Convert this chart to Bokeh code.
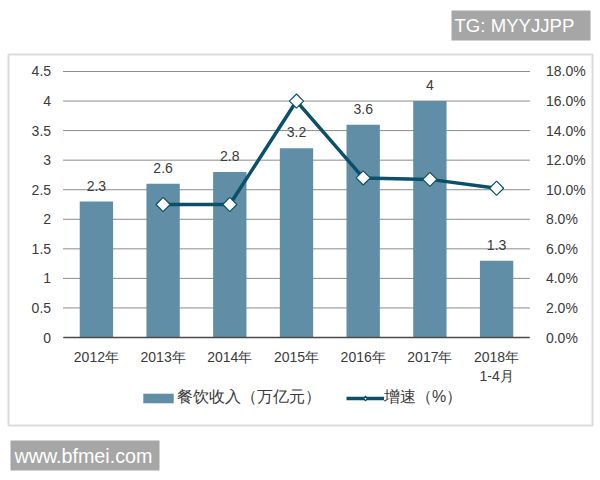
import math
from bokeh.core.properties import value
from bokeh.plotting import figure
from bokeh.embed import file_html
from bokeh.resources import INLINE
from bokeh.models import (ColumnDataSource, LinearAxis, Range1d, LabelSet, Label,
                          Legend, LegendItem, NumeralTickFormatter, BoxAnnotation, FixedTicker)

categories = ["2012年", "2013年", "2014年", "2015年", "2016年", "2017年", "2018年\n1-4月"]
revenue = [2.3, 2.6, 2.8, 3.2, 3.6, 4, 1.3]
revenue_labels = ["2.3", "2.6", "2.8", "3.2", "3.6", "4", "1.3"]
growth = [float("nan"), 0.09, 0.09, 0.16, 0.108, 0.107, 0.101]
left_ticks = [0, 0.5, 1, 1.5, 2, 2.5, 3, 3.5, 4, 4.5]
right_ticks = [0, 0.02, 0.04, 0.06, 0.08, 0.10, 0.12, 0.14, 0.16, 0.18]
positions = list(range(len(categories)))

FONT = "Liberation Sans"
TEXT = "#3a3a3a"
W, H = 600, 480
# The frame covers the whole canvas, so the legend, the outer box and the badges are not cut off.
X0, X1 = -1.438, 7.558
Y0, Y1 = -2.419, 5.701
SCALE = 0.04

p = figure(width=W, height=H, output_backend="svg", toolbar_location=None,
           x_range=Range1d(X0, X1), y_range=Range1d(Y0, Y1),
           x_axis_type=None, y_axis_type=None,
           min_border=0, min_border_left=0, min_border_right=0, min_border_top=0, min_border_bottom=0,
           outline_line_color=None, background_fill_color="white", border_fill_color="white")
p.extra_y_ranges = {"g": Range1d(Y0 * SCALE, Y1 * SCALE)}
p.xgrid.visible = False
p.ygrid.visible = False

src = ColumnDataSource(dict(x=positions, rev=revenue, lab=revenue_labels, g=growth))
grid_src = ColumnDataSource(dict(y=left_ticks, a=[-0.5] * len(left_ticks), b=[6.5] * len(left_ticks)))

p.segment(x0="a", x1="b", y0="y", y1="y", source=grid_src, line_color="#8c8c8c", line_width=1)
bars = p.vbar(x="x", top="rev", width=0.5, source=src, fill_color="#5f8ea6", line_color=None)
line = p.line(x="x", y="g", y_range_name="g", source=src, line_color="#0b5068", line_width=3.5)
pts = p.scatter(x="x", y="g", y_range_name="g", source=src, marker="square", size=10, angle=math.pi / 4,
                fill_color="white", line_color="#0b5068", line_width=1.2)
# legend-only key: the legend ignores the rotation of the square above
key = p.scatter(x=[float("nan")], y=[float("nan")], y_range_name="g", marker="diamond", size=10,
                fill_color="white", line_color="#0b5068", line_width=1.2)

p.add_layout(LabelSet(x="x", y="rev", text="lab", source=src, y_offset=11, text_align="center",
                      text_baseline="alphabetic", text_font=value(FONT), text_font_size="14px", text_color=TEXT))

xa = LinearAxis(ticker=FixedTicker(ticks=positions), fixed_location=0, bounds=(-0.5, 6.5),
                major_label_overrides={i: c for i, c in zip(positions, categories)})
la = LinearAxis(ticker=FixedTicker(ticks=left_ticks), fixed_location=-0.5, bounds=(0, 4.5),
                major_label_overrides={0: "0", 1: "1", 2: "2", 3: "3", 4: "4"})
ra = LinearAxis(y_range_name="g", ticker=FixedTicker(ticks=right_ticks), fixed_location=6.5,
                bounds=(0, 0.18), formatter=NumeralTickFormatter(format="0.0%"))
for ax in (xa, la, ra):
    ax.major_tick_line_color = None
    ax.minor_tick_line_color = None
    ax.major_label_text_font = FONT
    ax.major_label_text_font_size = "14px"
    ax.major_label_text_color = TEXT
xa.axis_line_color = "#4a4a4a"
xa.axis_line_width = 1.5
xa.major_label_standoff = 5
xa.major_label_orientation = "horizontal"
la.axis_line_color = None
la.major_label_standoff = 6
ra.axis_line_color = None
ra.major_label_standoff = 10
p.add_layout(xa, "below")
p.add_layout(la, "left")
p.add_layout(ra, "right")

legend = Legend(items=[LegendItem(label="餐饮收入（万亿元）", renderers=[bars]),
                       LegendItem(label="增速（%）", renderers=[line, key])],
                orientation="horizontal", location=(139, 72), glyph_width=38, glyph_height=12,
                label_text_font=FONT, label_text_font_size="16px", label_text_color=TEXT,
                label_standoff=0, spacing=25, padding=0, margin=0,
                background_fill_alpha=0, border_line_color=None)
p.add_layout(legend, "center")

def box(l, r, t, b, **kw):
    return BoxAnnotation(left=l, right=r, top=t, bottom=b, left_units="canvas", right_units="canvas",
                         top_units="canvas", bottom_units="canvas", level="underlay", **kw)

p.add_layout(box(8, 592, 54, 425, fill_alpha=0, line_color="#858585", line_width=2))
p.add_layout(box(451, 590, 10, 40, fill_color="#a6a6a6", fill_alpha=1, line_color=None))
p.add_layout(box(10, 159, 440, 470, fill_color="#a6a6a6", fill_alpha=1, line_color=None))
p.add_layout(Label(x=454, y=25, x_units="canvas", y_units="canvas", text="TG: MYYJJPP",
                   text_font=FONT, text_font_size="18.6px", text_color="white", text_baseline="alphabetic"))
p.add_layout(Label(x=14, y=455, x_units="canvas", y_units="canvas", text="www.bfmei.com",
                   text_font=FONT, text_font_size="19.7px", text_color="white", text_baseline="alphabetic"))

open("out.html", "w").write(file_html(p, INLINE))
